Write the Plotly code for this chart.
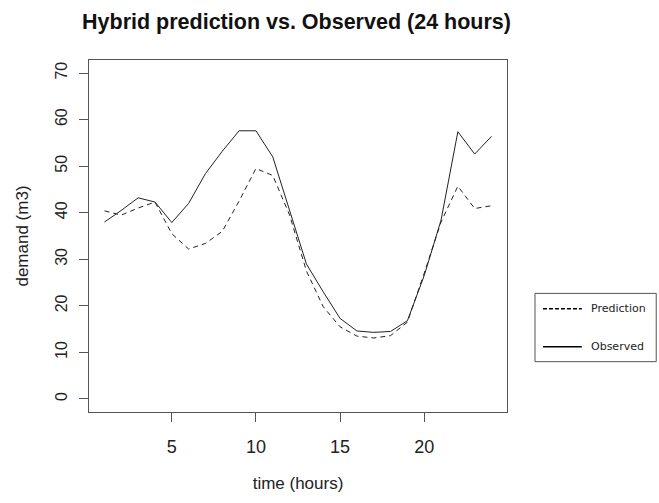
import plotly.graph_objects as go

hours = list(range(1, 25))
observed = [38.0, 40.5, 43.2, 42.3, 37.9, 42.0, 48.4, 53.2, 57.6, 57.6, 52.0, 40.5,
            29.0, 23.0, 17.3, 14.6, 14.3, 14.5, 16.8, 26.5, 38.4, 57.4, 52.6, 56.4]
predicted = [40.4, 39.5, 41.0, 42.3, 35.5, 32.2, 33.4, 36.0, 42.5, 49.5, 48.0, 39.5,
             27.5, 19.8, 15.5, 13.5, 13.1, 13.6, 16.5, 27.0, 38.0, 45.7, 40.9, 41.5]
x_ticks = [5, 10, 15, 20]
y_ticks = [0, 10, 20, 30, 40, 50, 60, 70]

LINE = "#222222"
AX = "#555555"
FONT = "Liberation Sans, Arial, sans-serif"
W, H = 659, 503

fig = go.Figure()
fig.add_trace(go.Scatter(x=hours, y=predicted, mode="lines", name="Prediction",
                         line=dict(color=LINE, width=1, dash="5px,4px")))
fig.add_trace(go.Scatter(x=hours, y=observed, mode="lines", name="Observed",
                         line=dict(color=LINE, width=1)))

fig.update_layout(
    width=W, height=H,
    margin=dict(l=89, r=152, t=60, b=91),
    paper_bgcolor="white", plot_bgcolor="white",
    showlegend=False,
    font=dict(family=FONT, color="#222222", size=16),
    title=dict(text="<b>Hybrid prediction vs. Observed (24 hours)</b>",
               x=296.5 / W, xanchor="center", y=1 - 21 / H, yanchor="middle",
               font=dict(family=FONT, size=21.5, color="#111111")),
)
fig.update_xaxes(range=[0.08, 24.92], tickvals=x_ticks, ticks="outside", ticklen=9,
                 tickcolor=AX, showline=True, linecolor=AX, linewidth=1, mirror=True,
                 showgrid=False, zeroline=False, ticklabelstandoff=9,
                 title=dict(text="time (hours)", standoff=21, font=dict(size=17)),
                 tickfont=dict(size=18))
fig.update_yaxes(range=[-2.8, 72.8], tickvals=y_ticks, ticks="outside", ticklen=9,
                 tickcolor=AX, showline=True, linecolor=AX, linewidth=1, mirror=True,
                 showgrid=False, zeroline=False, tickangle=-90, ticklabelstandoff=6,
                 title=dict(text="demand (m3)", standoff=19, font=dict(size=17)),
                 tickfont=dict(size=16))

# legend box (drawn outside plot area)
fig.add_shape(type="rect", xref="paper", yref="paper", x0=1.067, x1=1.357, y0=0.143, y1=0.337,
              line=dict(color=AX, width=1), fillcolor="white")
fig.add_shape(type="line", xref="paper", yref="paper", x0=1.086, x1=1.179, y0=0.293, y1=0.293,
              line=dict(color="#000000", width=1.5, dash="4px,2px"))
fig.add_shape(type="line", xref="paper", yref="paper", x0=1.086, x1=1.179, y0=0.1855, y1=0.1855,
              line=dict(color="#000000", width=1.5))
for yy, txt in [(0.293, "Prediction"), (0.1855, "Observed")]:
    fig.add_annotation(xref="paper", yref="paper", x=1.1965, y=yy, text=txt, showarrow=False,
                       xanchor="left", yanchor="middle",
                       font=dict(family="DejaVu Sans, Verdana, sans-serif", size=11, color="#222222"))

fig.write_html("out.html", config={"displayModeBar": False},
               post_script="document.body.style.margin='0';document.body.style.overflow='hidden';")
